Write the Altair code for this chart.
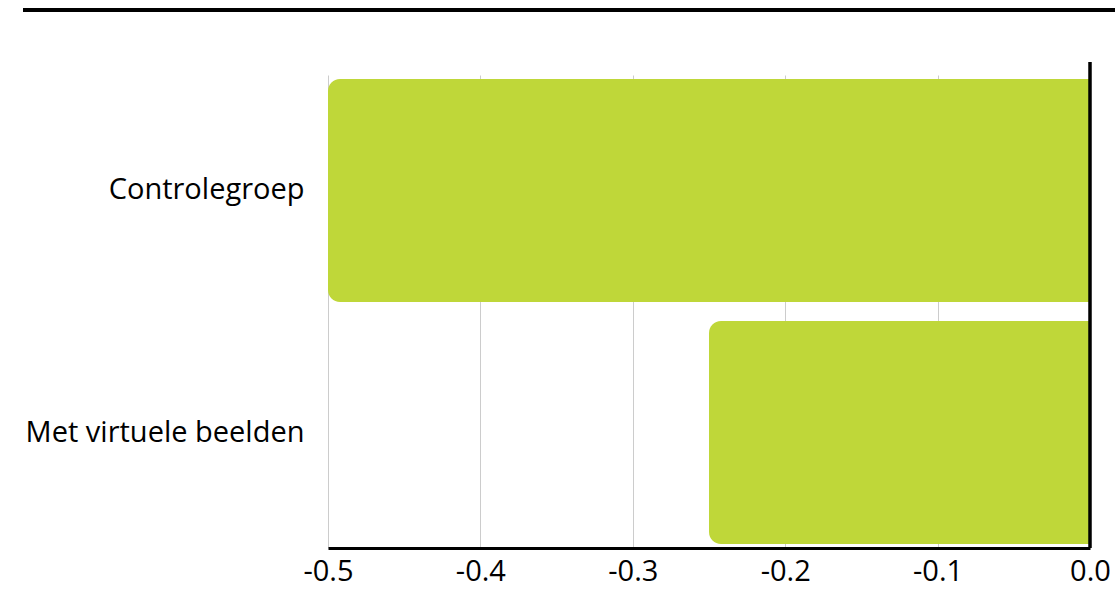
import altair as alt
import pandas as pd

groups = ["Controlegroep", "Met virtuele beelden"]
values = [-0.5, -0.25]
ticks = [-0.5, -0.4, -0.3, -0.2, -0.1, 0.0]

df = pd.DataFrame({"groep": groups, "waarde": values})

W, H = 762, 473
FONT = "Open Sans"

x_scale = alt.Scale(domain=[-0.5, 0], nice=False, zero=False)

bars = alt.Chart(df).mark_bar(
    color="#bfd739",
    cornerRadiusTopLeft=12,
    cornerRadiusBottomLeft=12,
).encode(
    x=alt.X(
        "waarde:Q",
        scale=x_scale,
        axis=alt.Axis(
            values=ticks,
            labelExpr="replace(format(datum.value, '.1f'), '\u2212', '-')",
            title=None,
            grid=True,
            gridColor="#cccccc",
            gridWidth=1,
            domainColor="black",
            domainWidth=3,
            ticks=False,
            labelFont=FONT,
            labelFontSize=29,
            labelColor="black",
            labelPadding=9,
            labelFlush=False,
        ),
    ),
    x2=alt.datum(0),
    y=alt.Y(
        "groep:N",
        sort=groups,
        scale=alt.Scale(paddingInner=0.0785, paddingOuter=0.0165),
        axis=alt.Axis(
            title=None,
            domain=False,
            ticks=False,
            grid=False,
            labelFont=FONT,
            labelFontSize=29,
            labelColor="black",
            labelPadding=24,
            labelLimit=400,
        ),
    ),
)

zero_line = alt.Chart(df).mark_rule(color="black", strokeWidth=3).encode(
    x=alt.datum(0, scale=x_scale),
    y=alt.value(-13),
    y2=alt.value(H),
)

top_line = alt.Chart(df).mark_rule(color="black", strokeWidth=4).encode(
    x=alt.value(-305),
    x2=alt.value(790),
    y=alt.value(-65),
)

chart = alt.layer(bars, zero_line, top_line).properties(
    width=W,
    height=H,
    autosize=alt.AutoSizeParams(type="none"),
    padding={"left": 328, "top": 75, "right": 25, "bottom": 41},
    background="white",
).configure_view(stroke=None)

chart.save("out.html", embed_options={"renderer": "svg", "actions": False})
